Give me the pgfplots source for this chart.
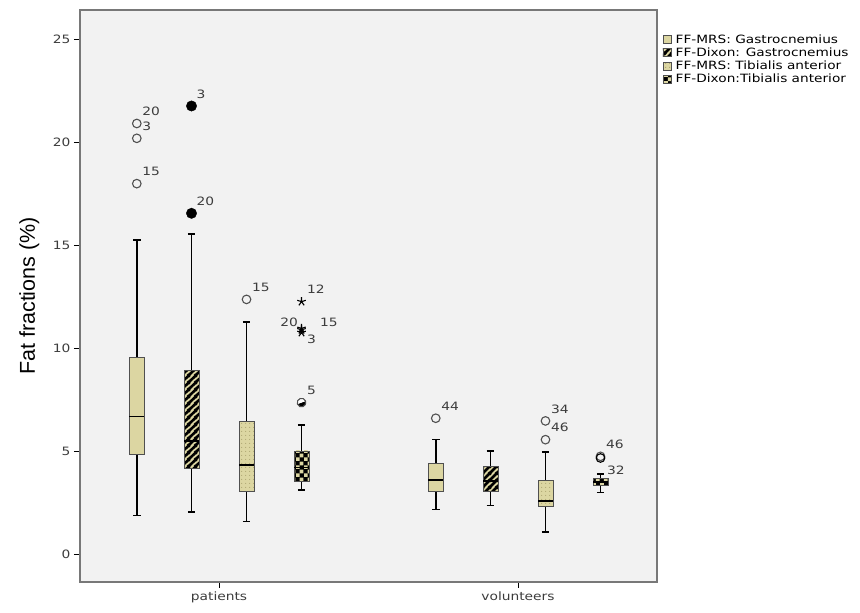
\documentclass[border=0pt]{standalone}
\usepackage{pgfplots}
\pgfplotsset{compat=1.18}
\usepgfplotslibrary{statistics}
\usetikzlibrary{patterns.meta}
\usepackage{fontspec}
\setmainfont{DejaVu Sans}
\newfontfamily\labfont{Liberation Sans}
\newfontfamily\legfont[FakeStretch=1.2]{DejaVu Sans}

\definecolor{beige}{RGB}{220,214,162}
\definecolor{bgc}{RGB}{242,242,242}
\definecolor{framec}{RGB}{120,120,120}
\definecolor{boxc}{RGB}{80,80,80}
\definecolor{dotc}{RGB}{160,152,100}
\definecolor{labc}{RGB}{60,60,60}

% fill patterns of the boxes
\tikzdeclarepattern{
  name=fatstripes, type=uncolored,
  bounding box={(0pt,0pt) and (7pt,7pt)},
  tile size={(7pt,7pt)},
  code={
    \pgfsetlinewidth{2.9pt}
    \pgfpathmoveto{\pgfqpoint{-1pt}{-1pt}}\pgfpathlineto{\pgfqpoint{8pt}{8pt}}
    \pgfpathmoveto{\pgfqpoint{-1pt}{6pt}}\pgfpathlineto{\pgfqpoint{1pt}{8pt}}
    \pgfpathmoveto{\pgfqpoint{6pt}{-1pt}}\pgfpathlineto{\pgfqpoint{8pt}{1pt}}
    \pgfusepath{stroke}
  }
}
\tikzdeclarepattern{
  name=smalldots, type=uncolored,
  bounding box={(0pt,0pt) and (4pt,4pt)},
  tile size={(4pt,4pt)},
  code={\fill (2pt,2pt) circle (0.6pt);}
}
\tikzdeclarepattern{
  name=checker, type=uncolored,
  bounding box={(0pt,0pt) and (8pt,8pt)},
  tile size={(8pt,8pt)},
  code={\fill (0pt,0pt) rectangle (4pt,4pt); \fill (4pt,4pt) rectangle (8pt,8pt);}
}

\pgfplotsset{
  mrsg/.style={boxplot/every box/.style={fill=beige, draw=boxc, line width=0.8pt}},
  dixg/.style={boxplot/every box/.style={fill=beige, draw=boxc, line width=0.8pt,
      postaction={pattern=fatstripes, pattern color=black}}},
  mrst/.style={boxplot/every box/.style={fill=beige, draw=boxc, line width=0.8pt,
      postaction={pattern=smalldots, pattern color=dotc}}},
  dixt/.style={boxplot/every box/.style={fill=black, draw=boxc, line width=0.8pt,
      postaction={pattern=checker, pattern color=beige}}},
  bx/.style={forget plot, black,
    boxplot/draw direction=y,
    boxplot/box extend=0.05, boxplot/whisker extend=0.025,
    boxplot/every whisker/.style={black, line width=1.5pt},
    boxplot/every median/.style={black, line width=1.8pt}},
  lab/.style={nodes near coords, point meta=explicit symbolic, forget plot,
    every node near coord/.append style={font=\legfont\fontsize{11.5}{12}\selectfont, text=labc, inner sep=0pt}},
  ar/.style={lab, every node near coord/.append style={anchor=west, xshift=5pt, yshift=12pt}},
}

\begin{document}
\begin{tikzpicture}
\begin{axis}[
  name=ax, at={(0pt,0pt)}, anchor=south west,
  scale only axis, width=577pt, height=572pt,
  xmin=0.535, xmax=2.465, ymin=-1.36, ymax=26.41,
  xtick={1,2}, xticklabels={patients, volunteers},
  ytick={0,5,10,15,20,25},
  tick align=outside, tick pos=left, major tick length=6pt,
  every tick/.style={black, line width=0.9pt},
  axis background/.style={fill=bgc},
  axis line style={draw=framec, line width=1.3pt},
  tick label style={font=\legfont\fontsize{11.5}{12}\selectfont, text=labc},
  /pgf/number format/assume math mode=true,
  every axis y label/.style={at={(axis description cs:-0.088,0.5)}, rotate=90, anchor=center},
  ylabel={\labfont\fontsize{21.5}{24}\selectfont Fat fractions (\%)},
  legend style={at={(1.004,0.962)}, anchor=north west, draw=none, fill=none,
    font=\legfont\fontsize{11.4}{12}\selectfont, row sep=1.8pt,
    cells={anchor=west}, nodes={inner sep=0.6pt},
    /tikz/every odd column/.append style={column sep=4pt}},
  legend cell align=left,
  legend image code/.code={\draw[#1] (0pt,-4pt) rectangle (8pt,4pt);},
]
\addlegendimage{fill=beige, draw=boxc, line width=0.6pt}
\addlegendentry{FF-MRS: Gastrocnemius}
\addlegendimage{fill=beige, draw=boxc, line width=0.6pt, postaction={pattern=fatstripes, pattern color=black}}
\addlegendentry{FF-Dixon: Gastrocnemius}
\addlegendimage{fill=beige, draw=boxc, line width=0.6pt, postaction={pattern=smalldots, pattern color=dotc}}
\addlegendentry{FF-MRS: Tibialis anterior}
\addlegendimage{fill=black, draw=boxc, line width=0.6pt, postaction={pattern=checker, pattern color=beige}}
\addlegendentry{FF-Dixon:Tibialis anterior}

% patients
\addplot[bx, mrsg, boxplot prepared={draw position=0.725, lower whisker=1.88, lower quartile=4.84, median=6.67, upper quartile=9.53, upper whisker=15.24}] coordinates {};
\addplot[bx, dixg, boxplot prepared={draw position=0.908, lower whisker=2.04, lower quartile=4.14, median=5.49, upper quartile=8.93, upper whisker=15.53}] coordinates {};
\addplot[bx, mrst, boxplot prepared={draw position=1.092, lower whisker=1.57, lower quartile=3.06, median=4.32, upper quartile=6.46, upper whisker=11.26}] coordinates {};
\addplot[bx, dixt, boxplot prepared={draw position=1.276, lower whisker=3.10, lower quartile=3.54, median=4.20, upper quartile=5.00, upper whisker=6.26}] coordinates {};
% volunteers
\addplot[bx, mrsg, boxplot prepared={draw position=1.725, lower whisker=2.17, lower quartile=3.06, median=3.58, upper quartile=4.42, upper whisker=5.55}] coordinates {};
\addplot[bx, dixg, boxplot prepared={draw position=1.908, lower whisker=2.36, lower quartile=3.03, median=3.54, upper quartile=4.27, upper whisker=5.00}] coordinates {};
\addplot[bx, mrst, boxplot prepared={draw position=2.092, lower whisker=1.07, lower quartile=2.31, median=2.57, upper quartile=3.58, upper whisker=4.95}] coordinates {};
\addplot[bx, dixt, boxplot prepared={draw position=2.276, lower whisker=2.98, lower quartile=3.34, median=3.50, upper quartile=3.68, upper whisker=3.88}] coordinates {};

% outliers
\addplot[ar, only marks, mark=o, mark size=4.3pt, mark options={draw=boxc, line width=1.1pt}] coordinates {
  (0.725,20.90) [20] (0.725,20.18) [3] (0.725,17.98) [15]
  (1.092,12.36) [15]
  (1.725,6.59) [44] (2.092,6.46) [34] (2.092,5.55) [46]
  (2.276,4.74) [46]
};
\addplot[lab, only marks, mark=o, mark size=4.3pt, mark options={draw=black, line width=1.1pt},
  every node near coord/.append style={anchor=west, xshift=6pt, yshift=-12pt}] coordinates {(2.276,4.66) [32]};
\addplot[ar, only marks, mark=*, mark size=5.2pt, mark options={fill=black, draw=black}] coordinates {
  (0.908,21.75) [3] (0.908,16.54) [20]
};
\addplot[ar, only marks, mark=halfcircle*, mark size=4.3pt, mark options={fill=black, draw=boxc, line width=1.1pt, rotate=200}] coordinates {
  (1.276,7.35) [5]
};
\addplot[ar, only marks, mark=star, mark size=4.5pt, mark options={black, line width=1.1pt}] coordinates {(1.276,12.25) [12]};
\addplot[lab, only marks, mark=star, mark size=4.5pt, mark options={black, line width=1.1pt},
  every node near coord/.append style={anchor=east, xshift=-3pt, yshift=6pt}] coordinates {(1.276,10.95) [20]};
\addplot[lab, only marks, mark=star, mark size=4.5pt, mark options={black, line width=1.1pt},
  every node near coord/.append style={anchor=west, xshift=18pt, yshift=7pt}] coordinates {(1.276,10.88) [15]};
\addplot[lab, only marks, mark=star, mark size=4.5pt, mark options={black, line width=1.1pt},
  every node near coord/.append style={anchor=west, xshift=5pt, yshift=-7pt}] coordinates {(1.276,10.75) [3]};
\end{axis}
\pgfresetboundingbox
\path (-80pt,-31pt) rectangle (780pt,582pt);
\end{tikzpicture}
\end{document}
